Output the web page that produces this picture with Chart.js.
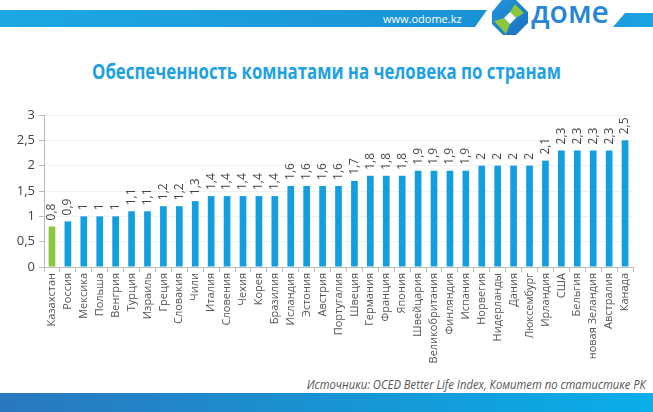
<!DOCTYPE html>
<html lang="ru">
<head>
<meta charset="utf-8">
<script src="https://cdn.jsdelivr.net/npm/chart.js@4.4.1/dist/chart.umd.min.js"></script>
<style>
  body { margin: 0; width: 653px; height: 412px; background: #fff; position: relative; overflow: hidden;
         font-family: "Open Sans", sans-serif; }
  .topbar { position: absolute; left: 0; top: 10px; width: 487px; height: 17px;
            background: linear-gradient(90deg, #1ca8e4, #1a92d6);
            clip-path: polygon(0 0, 100% 0, calc(100% - 12px) 100%, 0 100%); }
  .site { position: absolute; left: 383px; top: 11px; color: #fff; font-size: 11px; line-height: 15px; }
  .logo { position: absolute; left: 490px; top: 0; }
  .brand { position: absolute; left: 531px; top: -8px; color: #2886d3;
           font-weight: 600; font-size: 30px; line-height: 40px; }
  .tail { position: absolute; left: 613px; top: 13px; width: 40px; height: 14px;
          background: linear-gradient(90deg, #1c9ade, #1aa6e4);
          clip-path: polygon(12px 0, 100% 0, 100% 100%, 0 100%); }
  h1 { position: absolute; left: 0; right: 0; top: 58px; margin: 0; text-align: center;
       font-size: 21px; line-height: 26px; font-weight: bold; color: #1da1e3;
       transform: scaleX(0.8); }
  #wrap { position: absolute; left: 0; top: 100px; width: 653px; height: 272px; }
  .src { position: absolute; right: 7px; top: 376px; font-style: italic; font-size: 12.5px; color: #555;
         transform: scaleX(0.9); transform-origin: right center; white-space: nowrap; }
  .bottombar { position: absolute; left: 0; top: 393px; width: 653px; height: 19px;
               background: linear-gradient(90deg, #2a78bd, #09aeea); }
</style>
</head>
<body>
<div class="topbar"></div>
<div class="site">www.odome.kz</div>
<svg class="logo" width="40" height="36" viewBox="0 0 40 36">
  <defs>
    <linearGradient id="lg" x1="0" y1="0" x2="1" y2="1">
      <stop offset="0" stop-color="#2196dc"/>
      <stop offset="1" stop-color="#1a6fbd"/>
    </linearGradient>
  </defs>
  <polygon points="12,0 26,0 38,12 38,23 26,35 13,35 2,24 2,12" fill="url(#lg)"/>
  <polygon points="25,4 34,13 26,18 20,12" fill="#8cc63f"/>
  <polygon points="4,21 14,18 20,24 16,34" fill="#8cc63f"/>
  <polygon points="20,12 26,18 20,24 14,18" fill="#fff"/>
</svg>
<div class="brand">доме</div>
<div class="tail"></div>
<h1>Обеспеченность комнатами на человека по странам</h1>
<div id="wrap"><canvas id="chart"></canvas></div>
<div class="src">Источники: OCED Better Life Index, Комитет по статистике РК</div>
<div class="bottombar"></div>

<script>
const countries = ["Казахстан", "Россия", "Мексика", "Польша", "Венгрия", "Турция", "Израиль", "Греция",
  "Словакия", "Чили", "Италия", "Словения", "Чехия", "Корея", "Бразилия", "Исландия", "Эстония", "Австрия",
  "Португалия", "Швеция", "Германия", "Франция", "Япония", "Швейцария", "Великобритания", "Финляндия",
  "Испания", "Норвегия", "Нидерланды", "Дания", "Люксембург", "Ирландия", "США", "Бельгия",
  "новая Зеландия", "Австралия", "Канада"];
const rooms = [0.8, 0.9, 1, 1, 1, 1.1, 1.1, 1.2, 1.2, 1.3, 1.4, 1.4, 1.4, 1.4, 1.4, 1.6, 1.6, 1.6,
  1.6, 1.7, 1.8, 1.8, 1.8, 1.9, 1.9, 1.9, 1.9, 2, 2, 2, 2, 2.1, 2.3, 2.3, 2.3, 2.3, 2.5];
const yTicks = [0, 0.5, 1, 1.5, 2, 2.5, 3];

const FONT = '"Open Sans", sans-serif';
const fmt = v => String(v).replace(".", ",");

// подписи значений над столбцами, повернутые вертикально
const valueLabels = {
  id: "valueLabels",
  afterDatasetsDraw(chart) {
    const ctx = chart.ctx;
    const meta = chart.getDatasetMeta(0);
    ctx.save();
    ctx.font = "12px " + FONT;
    ctx.fillStyle = "#444";
    ctx.textAlign = "left";
    ctx.textBaseline = "middle";
    meta.data.forEach((bar, i) => {
      ctx.save();
      ctx.translate(bar.x, bar.y - 6);
      ctx.rotate(-Math.PI / 2);
      ctx.fillText(fmt(rooms[i]), 0, 0);
      ctx.restore();
    });
    ctx.restore();
  }
};

new Chart(document.getElementById("chart"), {
  type: "bar",
  data: {
    labels: countries,
    datasets: [{
      data: rooms,
      backgroundColor: countries.map((c, i) => i === 0 ? "#8dc63f" : "#129fe0"),
      barPercentage: 0.42,
      categoryPercentage: 1
    }]
  },
  options: {
    responsive: true,
    maintainAspectRatio: false,
    animation: false,
    layout: { padding: { top: 15, right: 20, left: 0, bottom: 0 } },
    plugins: { legend: { display: false }, tooltip: { enabled: false } },
    scales: {
      x: {
        grid: { offset: true, drawOnChartArea: false, tickLength: 5, color: "#bbb" },
        border: { color: "#bbb" },
        ticks: { autoSkip: false, maxRotation: 90, minRotation: 90, padding: 1,
                 color: "#555", font: { family: FONT, size: 11 } },
        afterFit: s => { s.height = 105; }
      },
      y: {
        min: 0, max: 3,
        afterBuildTicks: s => { s.ticks = yTicks.map(v => ({ value: v })); },
        grid: { color: "#f0f0f0", tickColor: "#bbb", tickLength: 5 },
        border: { color: "#bbb" },
        ticks: { padding: 4, color: "#444", font: { family: FONT, size: 13 }, callback: v => fmt(v) },
        afterFit: s => { s.width = 44; }
      }
    }
  },
  plugins: [valueLabels]
});
</script>
</body>
</html>
